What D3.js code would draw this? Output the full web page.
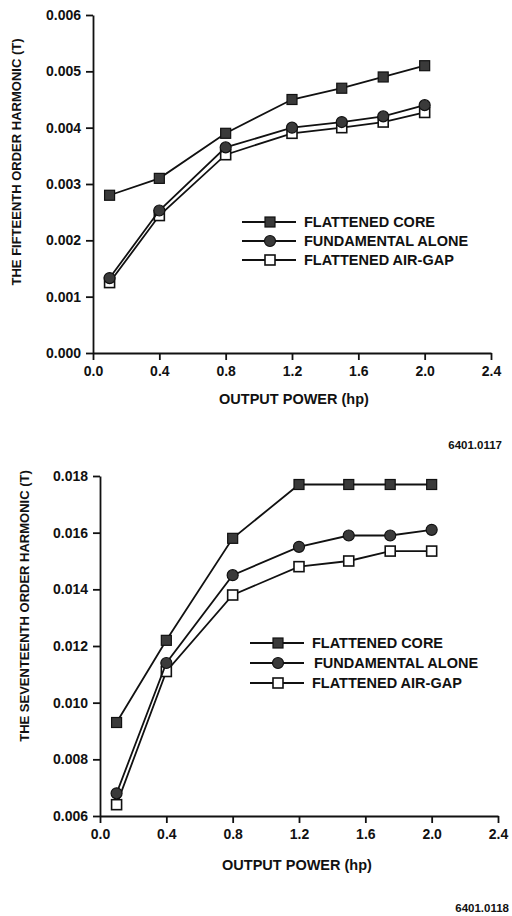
<!DOCTYPE html>
<html>
<head>
<meta charset="utf-8">
<script src="https://cdn.jsdelivr.net/npm/d3@7"></script>
<style>
  body { margin: 0; background: #fff; }
  svg { display: block; font-family: "Liberation Sans", Arial, Helvetica, sans-serif; }
  .axis path, .axis line { stroke: #111; stroke-width: 1.8; }
  .axis text { font-size: 14px; font-weight: bold; fill: #111; }
</style>
</head>
<body>
<script>
// x values (output power, hp) shared by both panels
var powerHp = [0.1, 0.4, 0.8, 1.2, 1.5, 1.75, 2.0];

// panel 1: fifteenth order harmonic (T)
var fifteenthCore = [0.0028, 0.0031, 0.0039, 0.0045, 0.0047, 0.0049, 0.0051];
var fifteenthFund = [0.00133, 0.00253, 0.00365, 0.0040, 0.0041, 0.0042, 0.0044];
var fifteenthAirGap = [0.00125, 0.00244, 0.00352, 0.0039, 0.0040, 0.0041, 0.00427];
var fifteenthTicks = [0, 0.001, 0.002, 0.003, 0.004, 0.005, 0.006];

// panel 2: seventeenth order harmonic (T)
var seventeenthCore = [0.0093, 0.0122, 0.0158, 0.0177, 0.0177, 0.0177, 0.0177];
var seventeenthFund = [0.0068, 0.0114, 0.0145, 0.0155, 0.0159, 0.0159, 0.0161];
var seventeenthAirGap = [0.0064, 0.0111, 0.0138, 0.0148, 0.0150, 0.01535, 0.01535];
var seventeenthTicks = [0.006, 0.008, 0.010, 0.012, 0.014, 0.016, 0.018];

var powerTicks = [0, 0.4, 0.8, 1.2, 1.6, 2.0, 2.4];
var seriesNames = ["FLATTENED CORE", "FUNDAMENTAL ALONE", "FLATTENED AIR-GAP"];
var seriesMarks = ["square", "circle", "open"];

var svg = d3.select("body").append("svg")
  .attr("width", 512)
  .attr("height", 916);

function drawMarker(g, kind, x, y) {
  if (kind == "circle") {
    g.append("circle")
      .attr("cx", x).attr("cy", y).attr("r", 5.5)
      .attr("fill", "#3a3a3a").attr("stroke", "#111").attr("stroke-width", 1.2);
  } else {
    g.append("rect")
      .attr("x", x - 5).attr("y", y - 5)
      .attr("width", 10).attr("height", 10)
      .attr("fill", kind == "open" ? "#fff" : "#3a3a3a")
      .attr("stroke", "#111").attr("stroke-width", kind == "open" ? 1.6 : 1.2);
  }
}

function drawPanel(opt) {
  var g = svg.append("g");
  var x = d3.scaleLinear().domain([0, 2.4]).range(opt.xRange);
  var y = d3.scaleLinear().domain(opt.yDomain).range(opt.yRange);

  g.append("g")
    .attr("class", "axis")
    .attr("transform", "translate(0," + opt.yRange[0] + ")")
    .call(d3.axisBottom(x).tickValues(powerTicks).tickFormat(d3.format(".1f"))
      .tickSize(7).tickPadding(6).tickSizeOuter(0));

  g.append("g")
    .attr("class", "axis")
    .attr("transform", "translate(" + opt.xRange[0] + ",0)")
    .call(d3.axisLeft(y).tickValues(opt.yTicks).tickFormat(d3.format(".3f"))
      .tickSize(7).tickPadding(5).tickSizeOuter(0));

  var line = d3.line()
    .x(function(d) { return x(d[0]); })
    .y(function(d) { return y(d[1]); });

  // draw series back to front so the filled core line sits on top
  for (var s = opt.series.length - 1; s >= 0; s--) {
    var pts = powerHp.map(function(p, i) { return [p, opt.series[s][i]]; });
    g.append("path")
      .attr("d", line(pts))
      .attr("fill", "none")
      .attr("stroke", "#111")
      .attr("stroke-width", 1.8);
    pts.forEach(function(d) { drawMarker(g, seriesMarks[s], x(d[0]), y(d[1])); });
  }

  // legend
  seriesNames.forEach(function(name, i) {
    var ly = opt.legend.y + i * opt.legend.step;
    g.append("line")
      .attr("x1", opt.legend.x).attr("x2", opt.legend.x + 54)
      .attr("y1", ly).attr("y2", ly)
      .attr("stroke", "#111").attr("stroke-width", 1.8);
    drawMarker(g, seriesMarks[i], opt.legend.x + 28, ly);
    g.append("text")
      .attr("x", opt.legend.x + 62 + (i == 1 ? opt.legend.shift : 0))
      .attr("y", ly + 5)
      .attr("font-size", "14.5px").attr("font-weight", "bold").attr("fill", "#111")
      .text(name);
  });

  // axis titles
  g.append("text")
    .attr("x", opt.xTitle[0]).attr("y", opt.xTitle[1])
    .attr("text-anchor", "middle")
    .attr("font-size", "14.5px").attr("font-weight", "bold").attr("fill", "#111")
    .text("OUTPUT POWER (hp)");

  g.append("text")
    .attr("transform", "translate(" + opt.yTitle[0] + "," + opt.yTitle[1] + ") rotate(-90)")
    .attr("text-anchor", "middle")
    .attr("font-size", "13px").attr("font-weight", "bold").attr("fill", "#111")
    .text(opt.yLabel);

  g.append("text")
    .attr("x", opt.code[0]).attr("y", opt.code[1])
    .attr("text-anchor", "end")
    .attr("font-size", "11.5px").attr("font-weight", "bold").attr("fill", "#111")
    .text(opt.codeText);
}

drawPanel({
  xRange: [93, 491],
  yDomain: [0, 0.006],
  yRange: [353, 15],
  yTicks: fifteenthTicks,
  series: [fifteenthCore, fifteenthFund, fifteenthAirGap],
  legend: {x: 242, y: 222, step: 19, shift: 0},
  xTitle: [294, 404],
  yTitle: [21, 162],
  yLabel: "THE FIFTEENTH ORDER HARMONIC (T)",
  code: [502, 449],
  codeText: "6401.0117"
});

drawPanel({
  xRange: [100, 498],
  yDomain: [0.006, 0.018],
  yRange: [816, 476],
  yTicks: seventeenthTicks,
  series: [seventeenthCore, seventeenthFund, seventeenthAirGap],
  legend: {x: 250, y: 643, step: 20, shift: 2},
  xTitle: [297, 870],
  yTitle: [29, 606],
  yLabel: "THE SEVENTEENTH ORDER HARMONIC (T)",
  code: [509, 912],
  codeText: "6401.0118"
});
</script>
</body>
</html>
